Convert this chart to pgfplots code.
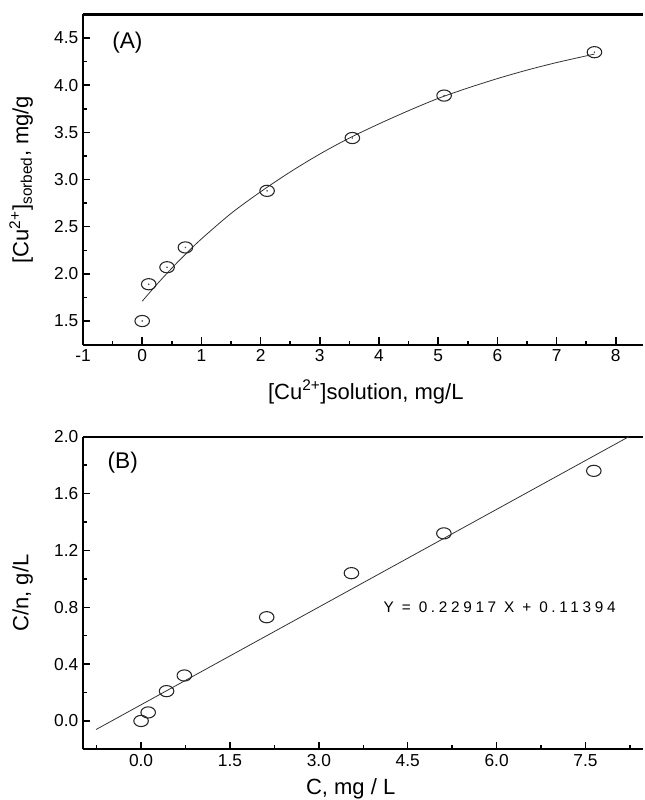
\documentclass[border=0pt]{standalone}
\usepackage{pgfplots}
\pgfplotsset{compat=1.18}
\usepackage{fontspec}
\setmainfont{Liberation Sans}
\newfontfamily\eqfont[LetterSpace=24]{Liberation Sans}

\pgfplotsset{
  panel/.style={
    scale only axis, anchor=south west,
    axis y line*=left,
    y axis line style={-},
    tick align=inside, xtick pos=left, ytick pos=left,
    major tick length=5.5pt, minor tick length=3pt,
    axis line style={line width=1.6pt},
    every tick/.style={black, line width=1.1pt},
    tick label style={font=\fontsize{13}{15}\selectfont},
    label style={font=\fontsize{16.5}{19}\selectfont, overlay},
    ylabel shift=9pt,
    /pgf/number format/assume math mode=true,
    clip=false,
  },
  ring/.style={only marks, mark=o, mark size=4.2pt,
    mark options={xscale=1.3, line width=0.8pt, black!85}},
}

\begin{document}
\begin{tikzpicture}[x=1pt,y=1pt]
\path (0,0) rectangle (482.25,600);

% (A) isotherm
\begin{axis}[panel,
  at={(62.25pt,341.55pt)}, width=420pt, height=247.6pt,
  xmin=-1, xmax=8.46, ymin=1.25, ymax=4.75,
  xtick={-1,0,...,8}, minor x tick num=1,
  ytick={1.5,2,...,4.5}, minor y tick num=1,
  yticklabel style={/pgf/number format/.cd, fixed, fixed zerofill, precision=1},
  xlabel={[Cu\textsuperscript{2+}]solution, mg/L},
  ylabel={[Cu\textsuperscript{2+}]\textsubscript{sorbed}, mg/g},
  xlabel style={at={(ticklabel cs:0.505)}},
  xlabel shift=7pt,
]
\addplot[black!80, line width=0.6pt, smooth] coordinates {
  (0,1.71) (0.25,1.89) (0.5,2.06) (0.75,2.22) (1,2.37) (1.5,2.64)
  (2,2.87) (2.5,3.08) (3,3.27) (3.5,3.44) (4,3.59) (4.5,3.73)
  (5,3.86) (5.5,3.97) (6,4.07) (6.5,4.16) (7,4.24) (7.64,4.33)};
\addplot[ring] coordinates {
  (0,1.50) (0.11,1.89) (0.42,2.07) (0.73,2.28) (2.11,2.88)
  (3.55,3.44) (5.10,3.89) (7.64,4.35)};
\addplot[only marks, mark=*, mark size=0.35pt, black!70] coordinates {
  (0,1.50) (0.11,1.89) (0.42,2.07) (0.73,2.28) (2.11,2.88)
  (3.55,3.44) (5.10,3.89) (7.64,4.35)};
\node[font=\fontsize{17}{20}\selectfont] at (axis cs:-0.25,4.45) {(A)};
\end{axis}

% (B) linear form
\begin{axis}[panel,
  at={(62.25pt,37.95pt)}, width=420pt, height=234.5pt,
  xmin=-0.98, xmax=8.47, ymin=-0.2, ymax=2.0,
  xtick={0,1.5,...,7.5}, minor xtick={-0.75,0.75,2.25,3.75,5.25,6.75,8.25},
  ytick={0,0.4,...,2.0}, minor y tick num=1,
  xticklabel style={/pgf/number format/.cd, fixed, fixed zerofill, precision=1},
  yticklabel style={/pgf/number format/.cd, fixed, fixed zerofill, precision=1},
  xlabel={C, mg / L},
  ylabel={C/n, g/L},
  xlabel style={at={(ticklabel cs:0.478)}},
  xlabel shift=2.5pt,
]
\addplot[black!80, line width=0.6pt] coordinates {(-0.76,-0.0602) (8.23,2.0)};
\addplot[ring] coordinates {
  (0,0.00) (0.12,0.06) (0.43,0.21) (0.73,0.32) (2.12,0.73)
  (3.55,1.04) (5.11,1.32) (7.64,1.76)};
\node[font=\fontsize{17}{20}\selectfont] at (axis cs:-0.31,1.82) {(B)};
\node[anchor=west, inner sep=0pt, font=\fontsize{11.5}{13}\selectfont\eqfont]
  at (axis cs:4.09,0.798) {Y = 0.22917 X + 0.11394};
\end{axis}
\end{tikzpicture}
\end{document}
